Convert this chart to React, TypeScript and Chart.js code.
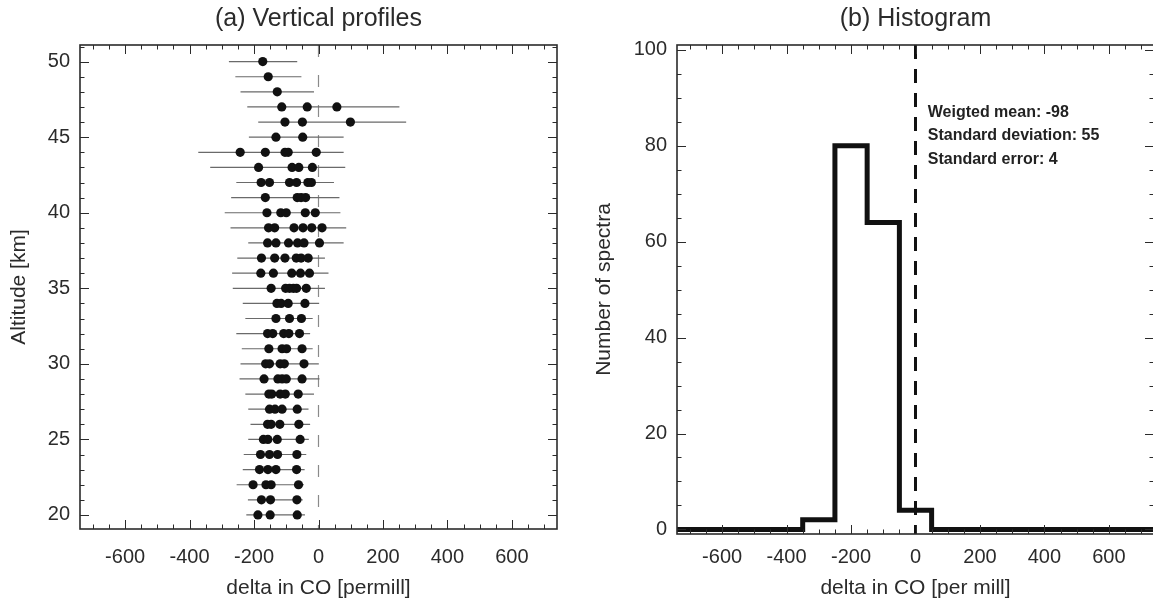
import React, { useEffect, useRef } from 'react';
import { Chart, registerables } from 'chart.js';

Chart.register(...registerables);

const FONT = "'Liberation Sans', Arial, Helvetica, sans-serif";
const TEXT = '#2b2b2b';

// ---------- Panel (a): vertical profiles ----------
const altitudes = [50, 49, 48, 47, 46, 45, 44, 43, 42, 41, 40, 39, 38, 37, 36, 35, 34, 33, 32, 31, 30, 29, 28, 27, 26, 25, 24, 23, 22, 21, 20];

const profileDeltas: number[][] = [
  [-173],
  [-156],
  [-128],
  [-114, -35, 57],
  [-104, -50, 99],
  [-132, -49],
  [-243, -165, -104, -94, -7],
  [-186, -82, -61, -19],
  [-178, -152, -90, -68, -33, -22],
  [-165, -66, -54, -40],
  [-160, -117, -100, -41, -10],
  [-155, -136, -76, -48, -21, 11],
  [-158, -132, -93, -65, -45, 3],
  [-177, -136, -104, -69, -54, -32],
  [-179, -140, -83, -56, -28],
  [-147, -102, -90, -78, -68, -38],
  [-129, -116, -94, -42],
  [-132, -90, -53],
  [-158, -142, -108, -92, -59],
  [-154, -113, -99, -51],
  [-164, -152, -119, -106, -45],
  [-169, -126, -113, -100, -51],
  [-154, -145, -119, -103, -63],
  [-152, -135, -113, -66],
  [-158, -147, -120, -61],
  [-171, -157, -128, -57],
  [-180, -152, -127, -67],
  [-183, -157, -132, -68],
  [-203, -163, -147, -62],
  [-177, -149, -67],
  [-188, -150, -66],
];

const errorLow = [-278, -258, -242, -221, -187, -216, -373, -336, -255, -271, -291, -273, -218, -252, -268, -266, -235, -227, -255, -238, -242, -245, -227, -218, -211, -218, -232, -235, -254, -219, -224];
const errorHigh = [-66, -53, -14, 251, 272, 78, 78, 83, 48, 65, 68, 86, 78, 20, 31, 20, 2, -18, -26, -18, 1, 3, -14, -31, -26, -30, -38, -43, -45, -49, -42];

const deltaTicks = [-600, -400, -200, 0, 200, 400, 600];
const altitudeTicks = [20, 25, 30, 35, 40, 45, 50];

// ---------- Panel (b): histogram ----------
const binEdges = [-350, -250, -150, -50, 50];
const binCounts = [2, 80, 64, 4];
const countTicks = [0, 20, 40, 60, 80, 100];
const statLines = ['Weigted mean: -98', 'Standard deviation: 55', 'Standard error: 4'];

const X_MIN = -740;
const X_MAX = 740;

function frameTicks(xMinorStep: number, yMinorStep: number, xMajor: number[], yMajor: number[]) {
  return {
    id: 'frameTicks',
    afterDraw(chart: any) {
      const { ctx, chartArea: a } = chart;
      const xs = chart.scales.x;
      const ys = chart.scales.y;
      ctx.save();
      ctx.strokeStyle = '#2b2b2b';
      ctx.lineWidth = 1;
      ctx.beginPath();
      const xTick = (v: number, len: number) => {
        const p = Math.round(xs.getPixelForValue(v)) + 0.5;
        ctx.moveTo(p, a.bottom);
        ctx.lineTo(p, a.bottom - len);
        ctx.moveTo(p, a.top);
        ctx.lineTo(p, a.top + len);
      };
      const yTick = (v: number, len: number) => {
        const p = Math.round(ys.getPixelForValue(v)) + 0.5;
        ctx.moveTo(a.left, p);
        ctx.lineTo(a.left + len, p);
        ctx.moveTo(a.right, p);
        ctx.lineTo(a.right - len, p);
      };
      for (let v = Math.ceil(xs.min / xMinorStep) * xMinorStep; v <= xs.max; v += xMinorStep) {
        xTick(v, xMajor.includes(v) ? 9 : 4.5);
      }
      for (let v = Math.ceil(ys.min / yMinorStep) * yMinorStep; v <= ys.max; v += yMinorStep) {
        yTick(v, yMajor.includes(v) ? 9 : 4.5);
      }
      ctx.stroke();
      ctx.lineWidth = 1.6;
      ctx.strokeRect(a.left, a.top, a.right - a.left, a.bottom - a.top);
      ctx.restore();
    },
  };
}

function zeroLine(color: string, width: number, dash: number[]) {
  return {
    id: 'zeroLine',
    beforeDatasetsDraw(chart: any) {
      const { ctx, chartArea: a } = chart;
      const x = chart.scales.x.getPixelForValue(0);
      ctx.save();
      ctx.strokeStyle = color;
      ctx.lineWidth = width;
      ctx.setLineDash(dash);
      ctx.beginPath();
      ctx.moveTo(x, a.top);
      ctx.lineTo(x, a.bottom);
      ctx.stroke();
      ctx.restore();
    },
  };
}

const errorBars = {
  id: 'errorBars',
  beforeDatasetsDraw(chart: any) {
    const { ctx } = chart;
    const xs = chart.scales.x;
    const ys = chart.scales.y;
    ctx.save();
    ctx.strokeStyle = '#6a6a6a';
    ctx.lineWidth = 1.2;
    ctx.beginPath();
    altitudes.forEach((alt, i) => {
      const y = ys.getPixelForValue(alt);
      ctx.moveTo(xs.getPixelForValue(errorLow[i]), y);
      ctx.lineTo(xs.getPixelForValue(errorHigh[i]), y);
    });
    ctx.stroke();
    ctx.restore();
  },
};

const statsText = {
  id: 'statsText',
  afterDraw(chart: any) {
    const { ctx } = chart;
    const x = chart.scales.x.getPixelForValue(38);
    const y0 = chart.scales.y.getPixelForValue(86.9);
    ctx.save();
    ctx.font = `bold 16px ${FONT}`;
    ctx.fillStyle = '#222';
    ctx.textAlign = 'left';
    ctx.textBaseline = 'middle';
    statLines.forEach((t, i) => ctx.fillText(t, x, y0 + i * 23.3));
    ctx.restore();
  },
};

function xAxis(title: string, height: number, pad: number) {
  return {
    type: 'linear',
    min: X_MIN,
    max: X_MAX,
    afterBuildTicks: (s: any) => {
      s.ticks = deltaTicks.map((v) => ({ value: v }));
    },
    afterFit: (s: any) => {
      s.height = height;
    },
    grid: { display: false, drawTicks: false },
    border: { display: false },
    ticks: {
      font: { family: FONT, size: 20 },
      color: TEXT,
      padding: pad,
      maxRotation: 0,
      autoSkip: false,
      callback: (v: any) => String(v),
    },
    title: {
      display: true,
      text: title,
      font: { family: FONT, size: 21 },
      color: TEXT,
      padding: { top: 0, bottom: 0 },
    },
  };
}

function yAxis(title: string, min: number, max: number, ticks: number[], width: number, titlePad: number) {
  return {
    type: 'linear',
    min,
    max,
    afterBuildTicks: (s: any) => {
      s.ticks = ticks.map((v) => ({ value: v }));
    },
    afterFit: (s: any) => {
      s.width = width;
    },
    grid: { display: false, drawTicks: false },
    border: { display: false },
    ticks: {
      font: { family: FONT, size: 20 },
      color: TEXT,
      padding: 10,
      autoSkip: false,
      callback: (v: any) => String(v),
    },
    title: {
      display: true,
      text: title,
      font: { family: FONT, size: 21 },
      color: TEXT,
      padding: { top: titlePad, bottom: 0 },
    },
  };
}

function titleOpts(text: string) {
  return {
    display: true,
    text,
    fullSize: false,
    color: TEXT,
    font: { family: FONT, size: 25, weight: 'normal' },
    padding: { top: 4, bottom: 11 },
  };
}

export default function App() {
  const leftRef = useRef<HTMLCanvasElement>(null);
  const rightRef = useRef<HTMLCanvasElement>(null);

  useEffect(() => {
    Chart.defaults.font.family = FONT;
    const points = altitudes.flatMap((alt, i) => profileDeltas[i].map((d) => ({ x: d, y: alt })));

    const left = new Chart(leftRef.current as HTMLCanvasElement, {
      type: 'scatter',
      data: {
        datasets: [
          {
            data: points,
            pointRadius: 4.6,
            pointBackgroundColor: '#111',
            pointBorderWidth: 0,
            pointBorderColor: '#111',
          },
        ],
      },
      options: {
        responsive: false,
        animation: false,
        events: [],
        layout: { padding: { left: 0, right: 23, top: 0, bottom: 0 } },
        plugins: {
          legend: { display: false },
          tooltip: { enabled: false },
          title: titleOpts('(a) Vertical profiles') as any,
        },
        scales: {
          x: xAxis('delta in CO [permill]', 601 - 529, 16) as any,
          y: yAxis('Altitude [km]', 19.07, 51.1, altitudeTicks, 80, 7) as any,
        },
      },
      plugins: [zeroLine('#8a8a8a', 1.2, [12, 18]), errorBars, frameTicks(50, 1, deltaTicks, altitudeTicks)],
    });

    const histPoints = [
      { x: X_MIN, y: 0 },
      ...binCounts.map((c, i) => ({ x: binEdges[i], y: c })),
      { x: binEdges[binEdges.length - 1], y: 0 },
      { x: X_MAX, y: 0 },
    ];

    const right = new Chart(rightRef.current as HTMLCanvasElement, {
      type: 'line',
      data: {
        datasets: [
          {
            data: histPoints,
            stepped: 'before',
            borderColor: '#111',
            borderWidth: 5,
            borderJoinStyle: 'miter',
            borderCapStyle: 'butt',
            pointRadius: 0,
            fill: false,
          },
        ],
      },
      options: {
        responsive: false,
        animation: false,
        events: [],
        layout: { padding: { left: 0, right: 6, top: 0, bottom: 0 } },
        plugins: {
          legend: { display: false },
          tooltip: { enabled: false },
          title: titleOpts('(b) Histogram') as any,
        },
        scales: {
          x: xAxis('delta in CO [per mill]', 601 - 534, 11) as any,
          y: yAxis('Number of spectra', -0.95, 101, countTicks, 97, 12) as any,
        },
      },
      plugins: [zeroLine('#111', 3, [14, 10]), frameTicks(50, 5, deltaTicks, countTicks), statsText],
    });

    return () => {
      left.destroy();
      right.destroy();
    };
  }, []);

  return (
    <div style={{ position: 'fixed', left: 0, top: 0, width: 1153, height: 601, overflow: 'hidden', background: '#fff' }}>
      <canvas ref={leftRef} width={580} height={601} style={{ position: 'absolute', left: 0, top: 0, width: 580, height: 601 }} />
      <canvas ref={rightRef} width={580} height={601} style={{ position: 'absolute', left: 580, top: 0, width: 580, height: 601 }} />
    </div>
  );
}
